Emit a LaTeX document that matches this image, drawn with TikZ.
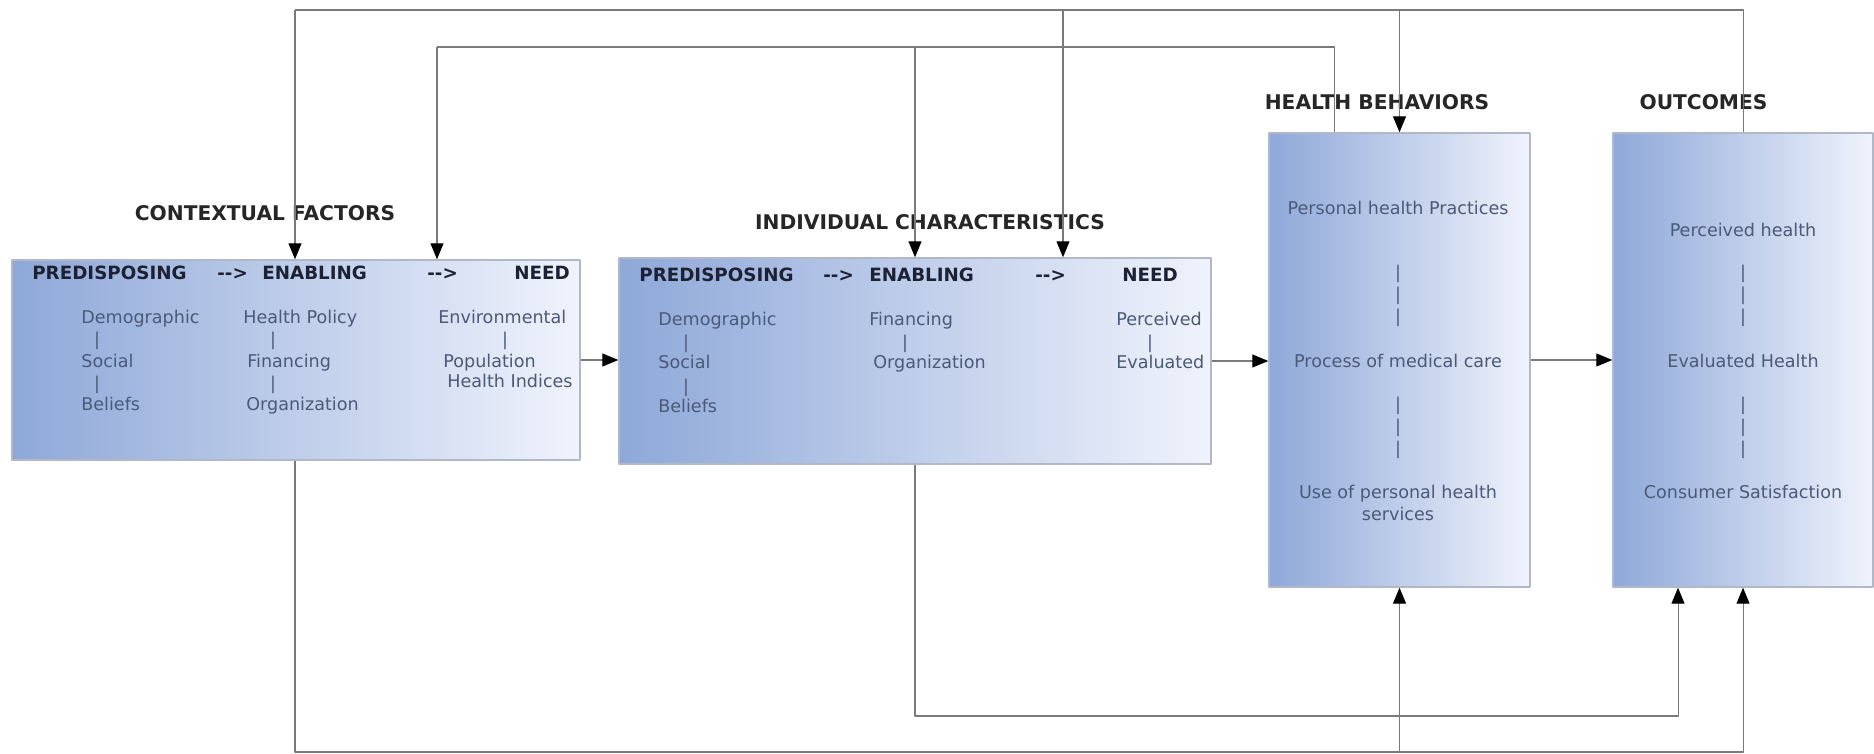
\documentclass[tikz,border=0pt]{standalone}
\usepackage{fontspec}
\setmainfont{DejaVu Sans}
\usetikzlibrary{arrows.meta,positioning,calc}
\definecolor{Ink}{HTML}{1C2233}
\definecolor{Body}{HTML}{4B5A78}
\definecolor{Wire}{HTML}{7A7A7A}
\definecolor{BoxL}{HTML}{8EA8D8}
\definecolor{BoxR}{HTML}{F0F3FC}
\definecolor{Edge}{HTML}{B3B8C8}
\tikzset{
  panel/.style={rectangle,draw=Edge,line width=0.8pt,left color=BoxL,right color=BoxR,inner sep=0pt},
  ttl/.style={font=\fontsize{11.5}{13}\selectfont\bfseries,text=black!85,inner sep=0pt},
  hdr/.style={font=\fontsize{10.4}{12}\selectfont\bfseries,text=Ink,anchor=mid west,inner sep=0pt},
  itm/.style={font=\fontsize{10}{12}\selectfont,text=Body,anchor=mid west,inner sep=0pt},
  ctr/.style={font=\fontsize{10}{12.5}\selectfont,text=Body,align=center,inner sep=0pt},
  arr/.style={-{Triangle[length=3.2mm,width=2.6mm,color=black]},line width=0.6pt,draw=Wire},
  wire/.style={line width=0.6pt,draw=Wire},
}

\begin{document}
\begin{tikzpicture}[x=1cm,y=1cm,line join=round]
\useasboundingbox (0,0) rectangle (37.48,15.08);

% the four panels
\node[panel,minimum width=11.36cm,minimum height=4cm] (ctx) at (5.92,7.88) {};
\node[panel,minimum width=11.84cm,minimum height=4.12cm] (ind) at (18.30,7.86) {};
\node[panel,minimum width=5.22cm,minimum height=9.08cm] (hb) at (27.99,7.88) {};
\node[panel,minimum width=5.20cm,minimum height=9.08cm] (out) at (34.86,7.88) {};

% titles
\node[ttl] (ctxT) at (5.30,10.82) {CONTEXTUAL FACTORS};
\node[ttl] (indT) at (18.60,10.64) {INDIVIDUAL CHARACTERISTICS};
\node[ttl] (hbT) at (27.54,13.04) {HEALTH BEHAVIORS};
\node[ttl] (outT) at (34.07,13.04) {OUTCOMES};

% contextual factors
\node[hdr] (ctxP) at (0.64,9.58) {PREDISPOSING};
\node[hdr] (ctxA1) at (4.34,9.58) {-{}->};
\node[hdr] (ctxE) at (5.24,9.58) {ENABLING};
\node[hdr] (ctxA2) at (8.54,9.58) {-{}->};
\node[hdr] (ctxN) at (10.28,9.58) {NEED};
\node[itm] (ctxP1) at (1.62,8.70) {Demographic};
\node[itm,anchor=center] (ctxPb1) at (1.94,8.26) {|};
\node[itm] (ctxP2) at (1.62,7.82) {Social};
\node[itm,anchor=center] (ctxPb2) at (1.94,7.38) {|};
\node[itm] (ctxP3) at (1.62,6.96) {Beliefs};
\node[itm] (ctxE1) at (4.86,8.70) {Health Policy};
\node[itm,anchor=center] (ctxEb1) at (5.46,8.26) {|};
\node[itm] (ctxE2) at (4.94,7.82) {Financing};
\node[itm,anchor=center] (ctxEb2) at (5.46,7.38) {|};
\node[itm] (ctxE3) at (4.92,6.96) {Organization};
\node[itm] (ctxN1) at (8.76,8.70) {Environmental};
\node[itm,anchor=center] (ctxNb1) at (10.10,8.26) {|};
\node[itm] (ctxN2) at (8.86,7.82) {Population};
\node[itm] (ctxN3) at (8.94,7.42) {Health Indices};

% individual characteristics
\node[hdr] (indP) at (12.78,9.54) {PREDISPOSING};
\node[hdr] (indA1) at (16.46,9.54) {-{}->};
\node[hdr] (indE) at (17.38,9.54) {ENABLING};
\node[hdr] (indA2) at (20.70,9.54) {-{}->};
\node[hdr] (indN) at (22.44,9.54) {NEED};
\node[itm] (indP1) at (13.16,8.66) {Demographic};
\node[itm,anchor=center] (indPb1) at (13.72,8.20) {|};
\node[itm] (indP2) at (13.16,7.80) {Social};
\node[itm,anchor=center] (indPb2) at (13.72,7.32) {|};
\node[itm] (indP3) at (13.16,6.92) {Beliefs};
\node[itm] (indE1) at (17.38,8.66) {Financing};
\node[itm,anchor=center] (indEb1) at (18.10,8.20) {|};
\node[itm] (indE2) at (17.46,7.80) {Organization};
\node[itm] (indN1) at (22.32,8.66) {Perceived};
\node[itm,anchor=center] (indNb1) at (23.00,8.20) {|};
\node[itm] (indN2) at (22.32,7.80) {Evaluated};

% health behaviors
\node[ctr] (hb1) at (27.96,10.92) {Personal health Practices};
\node[ctr] (hbBarA) at (27.96,9.16) {|\\|\\|};
\node[ctr] (hb2) at (27.96,7.86) {Process of medical care};
\node[ctr] (hbBarB) at (27.96,6.52) {|\\|\\|};
\node[ctr] (hb3) at (27.96,5.02) {Use of personal health\\services};

% outcomes
\node[ctr] (out1) at (34.86,10.48) {Perceived health};
\node[ctr] (outBarA) at (34.86,9.16) {|\\|\\|};
\node[ctr] (out2) at (34.86,7.86) {Evaluated Health};
\node[ctr] (outBarB) at (34.86,6.52) {|\\|\\|};
\node[ctr] (out3) at (34.86,5.24) {Consumer Satisfaction};

% main flow
\draw[arr] (ctx.east) -- (ctx.east -| ind.west);
\draw[arr] (ind.east) -- (ind.east -| hb.west);
\draw[arr] (hb.east) -- (out.west);

% feedback over the top
\coordinate (topL) at (5.90,14.88);
\coordinate (topM) at (21.26,14.88);
\draw[wire] (out.north) |- (topL);
\draw[arr] (topL) -- (topL |- ctx.north);
\draw[arr] (topM) -- (topM |- ind.north);
\draw[arr] (hb.north |- topL) -- (hb.north);
\coordinate (hbTap) at ($(hb.north west)!0.253!(hb.north east)$);
\coordinate (midL) at (8.74,14.14);
\draw[wire] (hbTap) |- (midL);
\draw[arr] (midL) -- (midL |- ctx.north);
\draw[arr] (ind.north |- midL) -- (ind.north);

% loops underneath
\coordinate (lowA) at (33.56,0.76);
\draw[arr] (ind.south) |- (lowA) -- (lowA |- out.south);
\coordinate (lowB) at (5.90,0.04);
\draw[arr] (lowB |- ctx.south) -- (lowB) -| (out.south);
\draw[arr] (hb.south |- lowB) -- (hb.south);
\end{tikzpicture}
\end{document}
